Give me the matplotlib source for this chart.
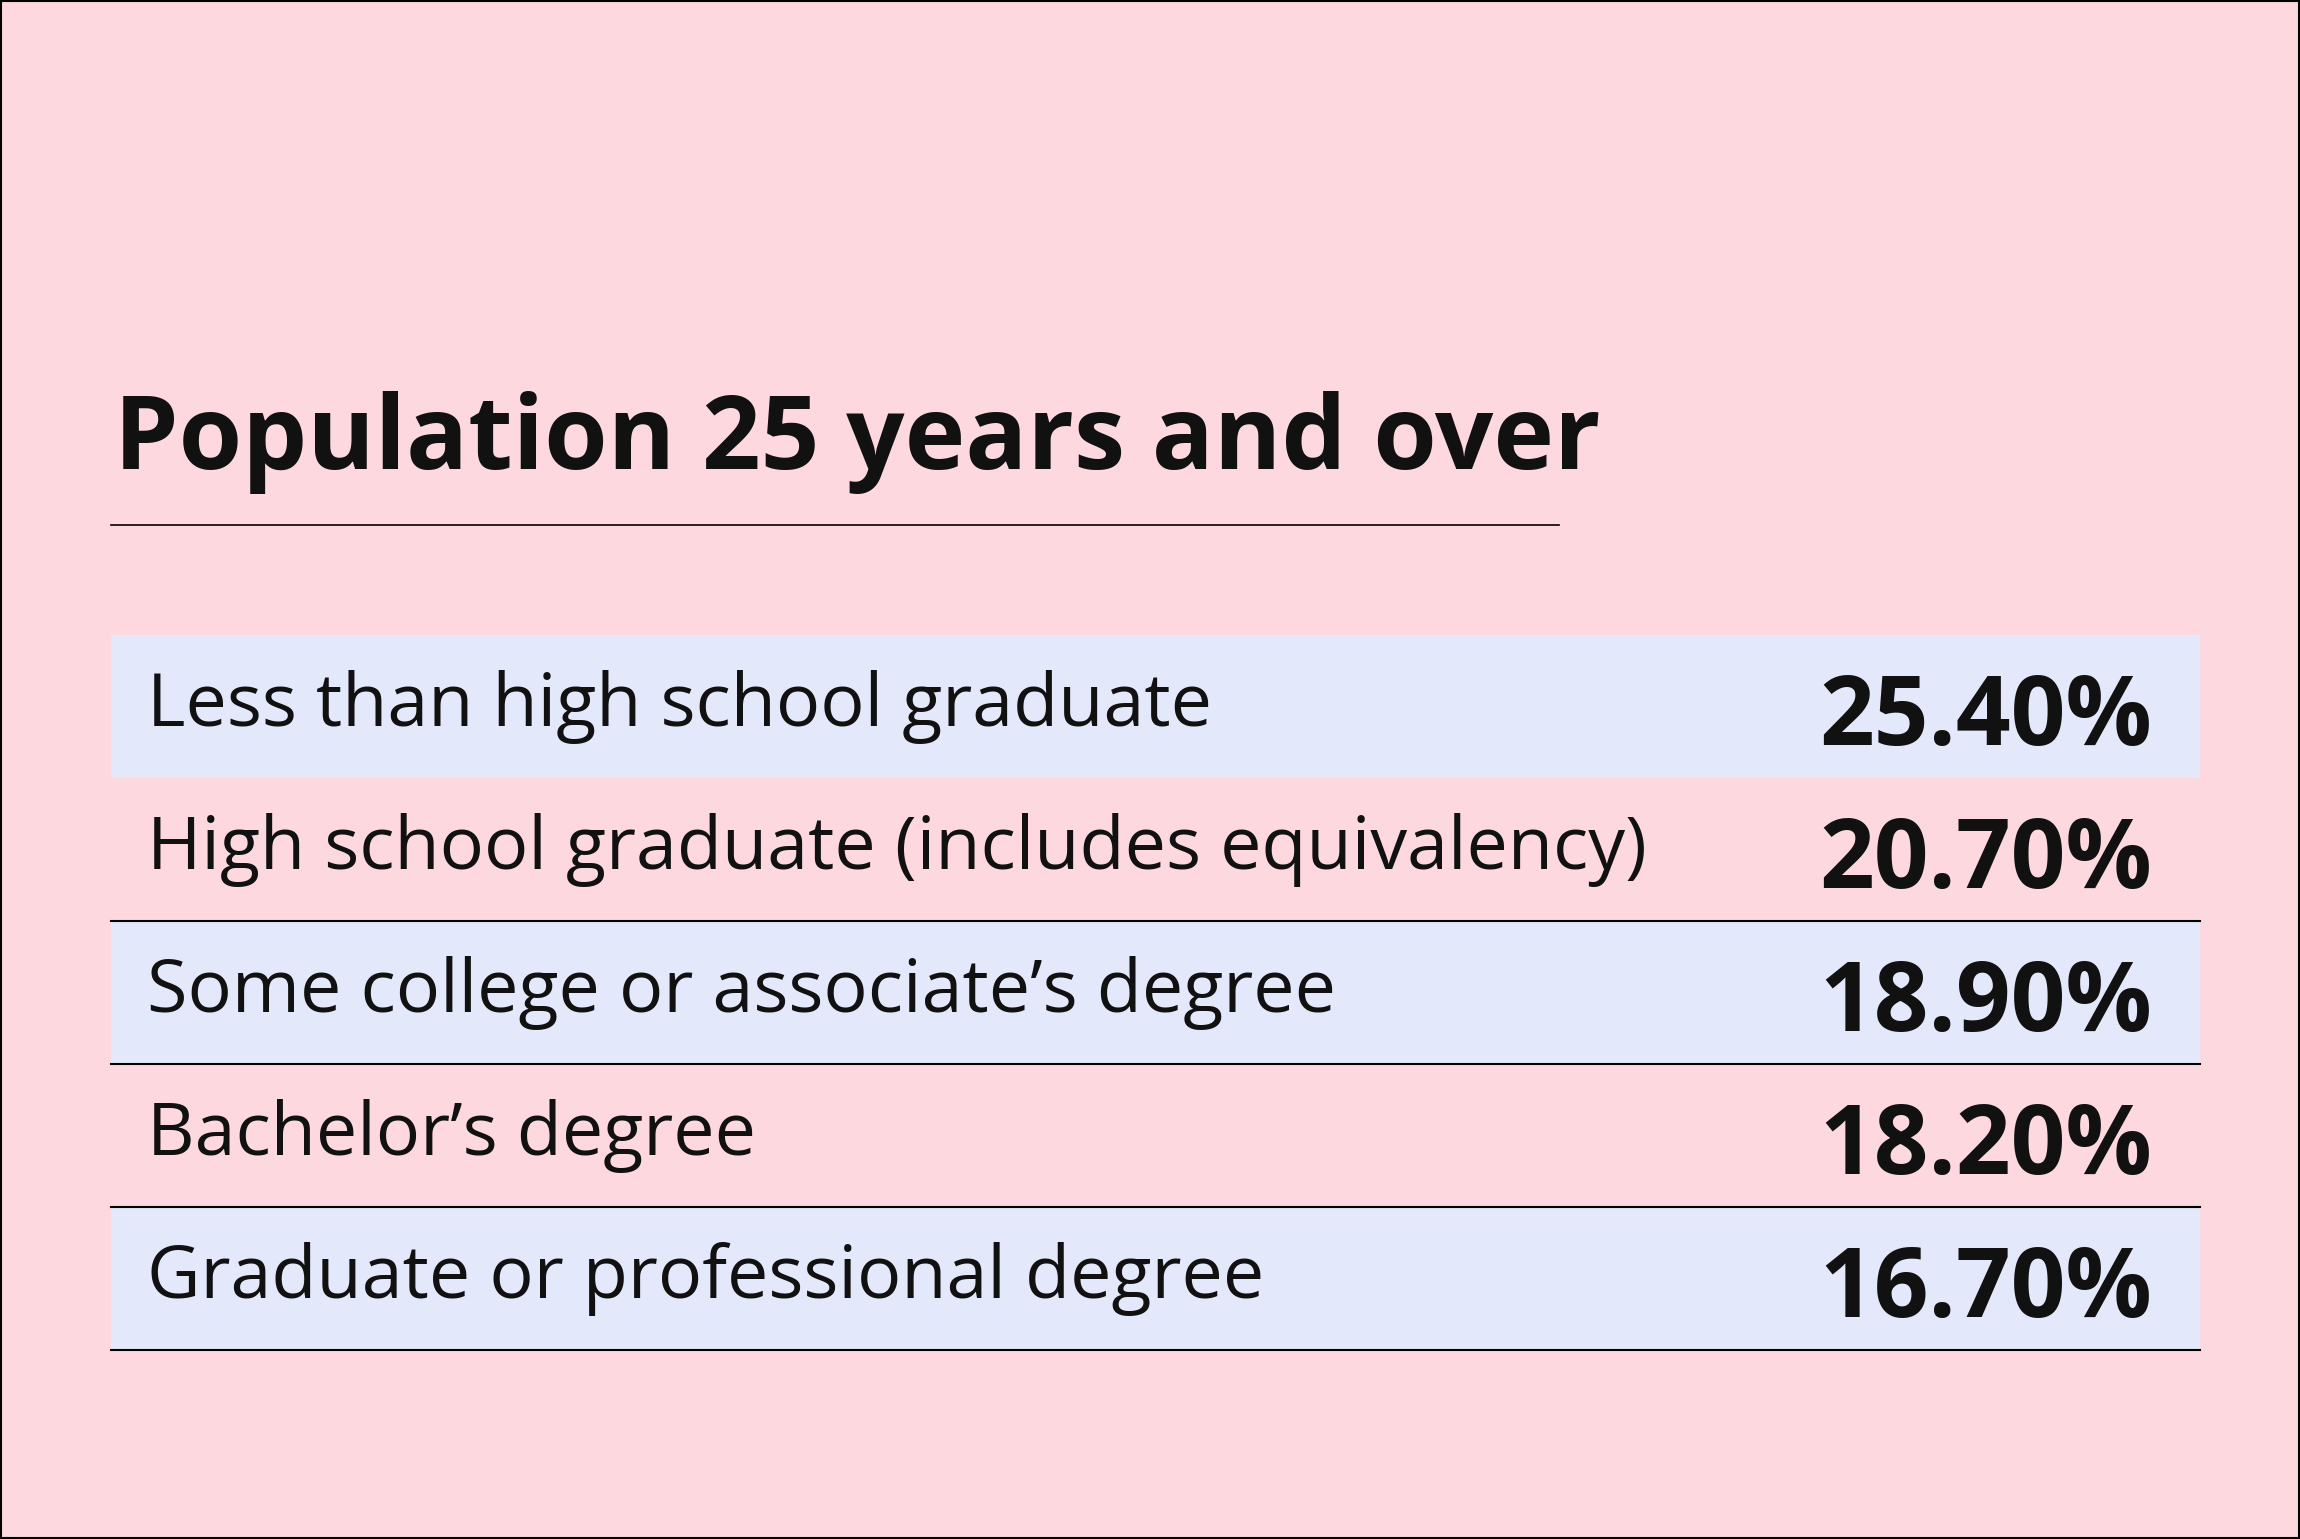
import matplotlib.pyplot as plt
from matplotlib.patches import Rectangle

title = "Population 25 years and over"
categories = [
    "Less than high school graduate",
    "High school graduate (includes equivalency)",
    "Some college or associate\u2019s degree",
    "Bachelor\u2019s degree",
    "Graduate or professional degree",
]
values = [25.40, 20.70, 18.90, 18.20, 16.70]

W, H = 1568, 1049
fig = plt.figure(figsize=(23, 15.39), dpi=100)
fig.patch.set_facecolor("#FDD9DF")
ax = fig.add_axes([0, 0, 1, 1])
ax.set_xlim(0, W)
ax.set_ylim(H, 0)
ax.axis("off")

# border
ax.add_patch(Rectangle((0.5, 0.5), W - 1, H - 1, fill=False, ec="black", lw=1.5))

ax.text(78, 320, title, fontsize=74, fontweight="bold", family="Open Sans",
        va="baseline", ha="left", color="#111111")
ax.plot([76, 1063], [358, 358], color="black", lw=1.2)

top, row_h = 433, 97.4
for i, (cat, val) in enumerate(zip(categories, values)):
    y0 = top + i * row_h
    if i % 2 == 0:
        ax.add_patch(Rectangle((76, y0), 1424, row_h, color="#E3E8FB", lw=0))
    if i > 0:
        ax.plot([76, 1500], [y0 + row_h, y0 + row_h], color="black", lw=1.5)
    ax.text(100, y0 + 62, cat, fontsize=53, family="Open Sans",
            va="baseline", ha="left", color="#111111")
    ax.text(1467, y0 + 75, f"{val:.2f}%", fontsize=69, fontweight="bold",
            family="Open Sans", va="baseline", ha="right", color="#111111")

fig.savefig("out.png", dpi=100, facecolor=fig.get_facecolor())
